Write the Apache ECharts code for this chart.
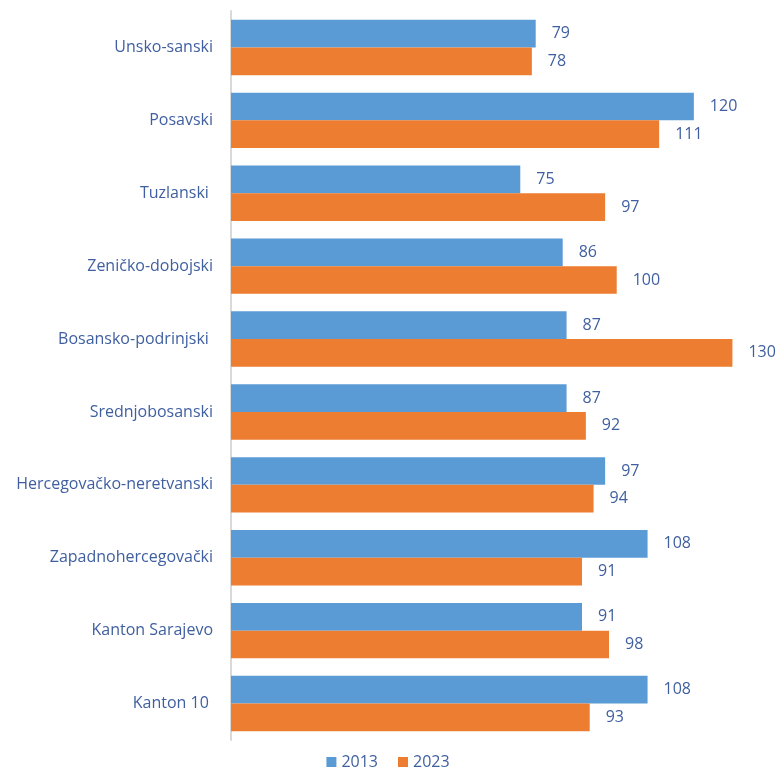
<!DOCTYPE html>
<html><head><meta charset="utf-8">
<script src="https://cdn.jsdelivr.net/npm/echarts@6/dist/echarts.min.js"></script>
<style>html,body{margin:0;padding:0;background:#fff}#c{width:776px;height:767px}</style>
</head><body><div id="c"></div>
<script>
const categories = ["Unsko-sanski","Posavski","Tuzlanski ","Zeničko-dobojski","Bosansko-podrinjski ","Srednjobosanski","Hercegovačko-neretvanski","Zapadnohercegovački","Kanton Sarajevo","Kanton 10 "];
const values2013 = [79,120,75,86,87,87,97,108,91,108];
const values2023 = [78,111,97,100,130,92,94,91,98,93];
const seriesNames = ["2013","2023"];
const textColor = "#3F5FA0";
const font = "'Open Sans', sans-serif";
const chart = echarts.init(document.getElementById('c'));
chart.setOption({
  animation:false,
  grid:{left:231, top:11, height:729, right:5, containLabel:false},
  xAxis:{type:'value', min:0, max:140, show:false},
  yAxis:{type:'category', data:categories, inverse:true,
    axisLine:{show:true, lineStyle:{color:'#d9d9d9', width:2}},
    axisTick:{show:false},
    axisLabel:{color:textColor, fontSize:16, fontFamily:font, margin:18}
  },
  legend:{top:749, left:'center', itemWidth:10, itemHeight:10, itemGap:20, icon:'rect',
    textStyle:{color:textColor, fontSize:16, fontFamily:font}},
  series:[
    {name:seriesNames[0], type:'bar', data:values2013, barGap:'0%', barCategoryGap:'24%',
     itemStyle:{color:'#5B9BD5'},
     label:{show:true, position:'right', distance:16, color:textColor, fontSize:16, fontFamily:font}},
    {name:seriesNames[1], type:'bar', data:values2023, barGap:'0%', barCategoryGap:'24%',
     itemStyle:{color:'#ED7D31'},
     label:{show:true, position:'right', distance:16, color:textColor, fontSize:16, fontFamily:font}}
  ]
});
</script></body></html>
